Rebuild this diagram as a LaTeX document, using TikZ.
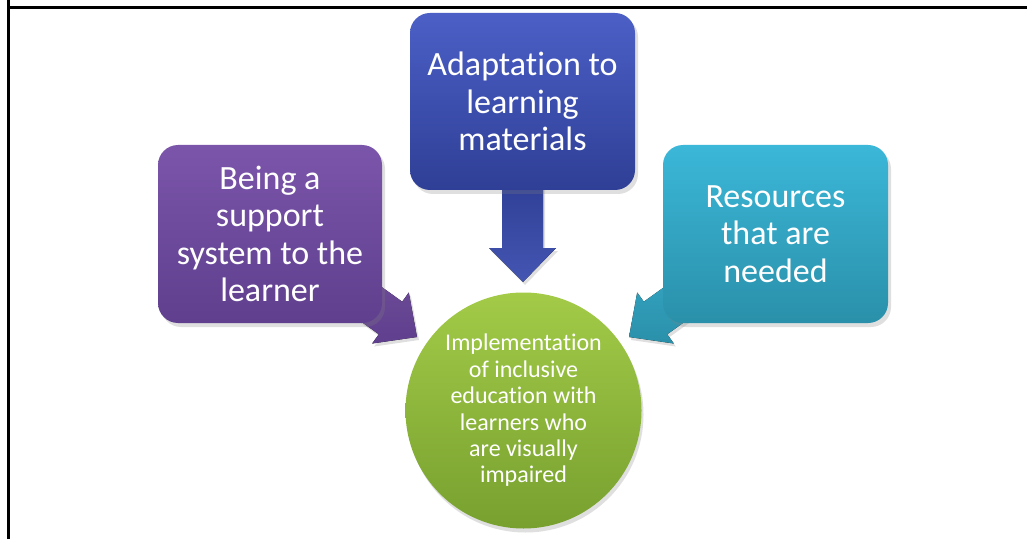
\documentclass[tikz,border=0pt]{standalone}
\usepackage{fontspec}
\setmainfont[Ligatures=NoCommon]{Carlito}
\usetikzlibrary{shadows}
\definecolor{purpT}{HTML}{7B55AA}
\definecolor{purpB}{HTML}{5F3F8E}
\definecolor{blueT}{HTML}{4B5FC6}
\definecolor{blueB}{HTML}{2F3F96}
\definecolor{tealT}{HTML}{3BB7D8}
\definecolor{tealB}{HTML}{2A90AA}
\definecolor{grnT}{HTML}{A3CB48}
\definecolor{grnB}{HTML}{77A02F}
\begin{document}
\begin{tikzpicture}[x=1pt,y=1pt,
  box/.style={rectangle, rounded corners=20pt, minimum width=224pt, minimum height=178pt,
    inner sep=0pt, align=center, text=white, font=\fontsize{34}{37.5}\selectfont,
    drop shadow={opacity=0.25, shadow xshift=3pt, shadow yshift=-4pt}},
  hub/.style={circle, minimum size=236pt, inner sep=0pt, align=center, text=white,
    font=\fontsize{24}{26.4}\selectfont, top color=grnT, bottom color=grnB,
    drop shadow={opacity=0.25, shadow xshift=2pt, shadow yshift=-4pt}},
  blockarrow/.style={draw=none, drop shadow={opacity=0.25, shadow xshift=2pt, shadow yshift=-3pt}}
]
\useasboundingbox (0,0) rectangle (1027,539);
\fill[white] (0,0) rectangle (1027,539);
% frame (top and left)
\draw[line width=3pt] (8,539) -- (8,531) -- (1027,531);
\draw[line width=3pt] (8,531) -- (8,0);

% block arrows (drawn below boxes)
\fill[blockarrow, top color=purpT!90!black, bottom color=purpB]
  (353.4,272.3) -- (402.2,237.3) -- (408.8,246.5) -- (417,202) -- (372.2,195.5)
  -- (378.8,204.7) -- (330,239.7) -- cycle;
\fill[blockarrow, top color=tealT!90!black, bottom color=tealB]
  (692.6,272.3) -- (643.8,237.3) -- (637.2,246.5) -- (629,202) -- (673.8,195.5)
  -- (667.2,204.7) -- (716,239.7) -- cycle;
\fill[blockarrow, top color=blueB, bottom color=blueT!90!black]
  (502,360) -- (502,291) -- (489,291) -- (523,257) -- (556,291) -- (543,291)
  -- (543,360) -- cycle;

% boxes
\node[box, top color=purpT, bottom color=purpB] (support) at (270,305)
  {Being a\\support\\system to the\\learner};
\node[box, top color=blueT, bottom color=blueB, minimum width=225pt, minimum height=177pt]
  (adapt) at (522.5,437.5) {Adaptation to\\learning\\materials};
\node[box, top color=tealT, bottom color=tealB, minimum width=225pt] (resources)
  at (775.5,305) {Resources\\that are\\needed};

% hub
\node[hub] (impl) at (523.5,128.5)
  {Implementation\\of inclusive\\education with\\learners who\\are visually\\impaired};
\end{tikzpicture}
\end{document}
